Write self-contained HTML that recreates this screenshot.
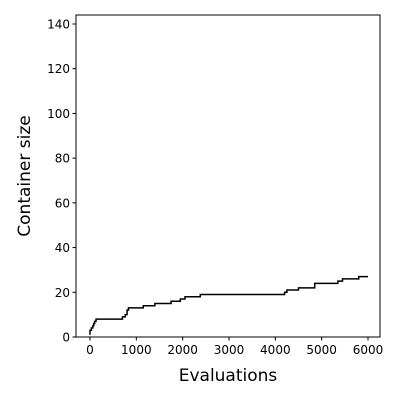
<!DOCTYPE html>
<html><head><meta charset="utf-8"><style>
body{margin:0;background:#fff}
svg text{font-family:"DejaVu Sans","Liberation Sans",sans-serif}
</style></head><body>
<svg id="c" width="400" height="400" xmlns="http://www.w3.org/2000/svg"></svg>
<script>
const xVals=[0,0,30,60,80,100,130,700,760,800,830,1150,1400,1750,1950,2050,2380,4200,4250,4500,4850,5350,5450,5800,6000];
const yVals=[1,3,4,5,6,7,8,9,10,12,13,14,15,16,17,18,19,20,21,22,24,25,26,27,27];
const xTicks=[0,1000,2000,3000,4000,5000,6000];
const yTicks=[0,20,40,60,80,100,120,140];
const NS="http://www.w3.org/2000/svg",svg=document.getElementById('c');
const L=76,R=380,T=15,B=337;
const sx=v=>90+v*(278/6000);
const sy=v=>337-v*(313/140);
function el(t,a,txt){const e=document.createElementNS(NS,t);for(const k in a)e.setAttribute(k,a[k]);if(txt!=null)e.textContent=txt;svg.appendChild(e);return e;}
let d='';
for(let i=0;i<xVals.length;i++){
  if(i===0)d+=`M${sx(xVals[0])},${sy(yVals[0])}`;
  else d+=`H${sx(xVals[i])}V${sy(yVals[i])}`;
}
const line=el('path',{d:d,fill:'none',stroke:'#000','stroke-width':1.5});


const frame=el('rect',{x:L,y:T,width:R-L,height:B-T,fill:'none',stroke:'#000','stroke-width':1});


xTicks.forEach(v=>{
  el('line',{x1:sx(v),x2:sx(v),y1:B,y2:B+3.5,stroke:'#000'});
  const t=el('text',{x:sx(v),y:B+17,'text-anchor':'middle','font-size':12},v);
  
  
});
yTicks.forEach(v=>{
  el('line',{x1:L,x2:L-3.5,y1:sy(v),y2:sy(v),stroke:'#000'});
  const t=el('text',{x:L-6,y:sy(v)+4.5,'text-anchor':'end','font-size':12},v);
  
  
});
const xt=el('text',{x:228,y:381,'text-anchor':'middle','font-size':17},'Evaluations');


const yt=el('text',{x:30,y:176,'text-anchor':'middle','font-size':17,transform:'rotate(-90 30 176)'},'Container size');


</script>
</body></html>
